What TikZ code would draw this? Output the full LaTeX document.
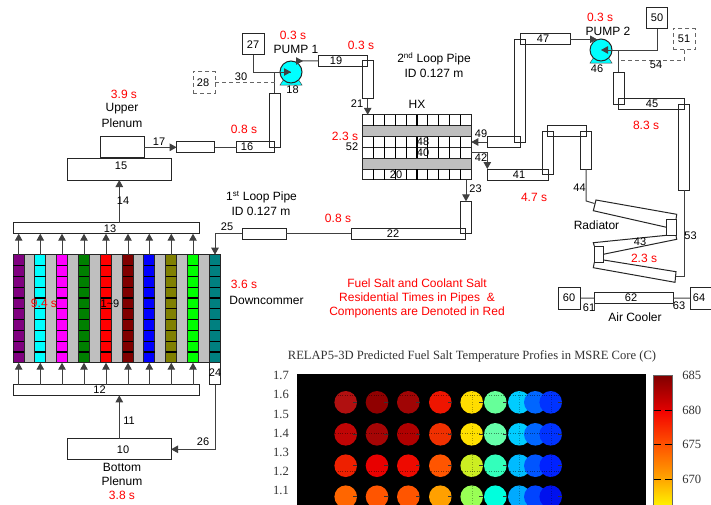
\documentclass[tikz,border=0pt]{standalone}
\usepackage{fontspec}
\setmainfont{Liberation Sans}
\newfontfamily\plotfont{Liberation Serif}
\usetikzlibrary{shapes,arrows.meta,positioning,calc}
\definecolor{linegray}{HTML}{404040}
\definecolor{dashgray}{HTML}{666666}
\definecolor{coregray}{HTML}{BFBFBF}
\definecolor{chpurple}{HTML}{800080}
\definecolor{chcyan}{HTML}{00FFFF}
\definecolor{chmagenta}{HTML}{FF00FF}
\definecolor{chgreen}{HTML}{008000}
\definecolor{chred}{HTML}{FF0000}
\definecolor{chmaroon}{HTML}{800000}
\definecolor{chblue}{HTML}{0000FF}
\definecolor{cholive}{HTML}{808000}
\definecolor{chlime}{HTML}{00FF00}
\definecolor{chteal}{HTML}{008080}

\begin{document}
\begin{tikzpicture}[
    x=1pt, y=-1pt,
    pipe/.style={draw=black!85, line width=1pt, inner sep=0pt, outer sep=0pt},
    tank/.style={pipe, minimum width=21.7pt, minimum height=21pt},
    dashbox/.style={draw=dashgray, dash pattern=on 4pt off 3pt, line width=1pt, inner sep=0pt, outer sep=0pt, minimum width=21.7pt, minimum height=21.7pt},
    cell/.style={inner sep=0pt, outer sep=0pt, minimum width=10.8pt, minimum height=10.8pt},
    hxcell/.style={cell, minimum width=10.86pt},
    cellline/.style={black, line width=1.2pt},
    band/.style={draw=black!85, fill=coregray, line width=1pt, inner sep=0pt, outer sep=0pt},
    pumpc/.style={circle, draw=black!85, fill=chcyan, line width=1pt, minimum size=22pt, inner sep=0pt, outer sep=0pt},
    conn/.style={line width=1pt, color=linegray},
    flow/.style={conn, -{Triangle[length=7pt,width=7.5pt]}},
    dashconn/.style={line width=1pt, color=dashgray, dash pattern=on 4pt off 3pt},
    num/.style={inner sep=0pt, font=\fontsize{11}{11}\selectfont},
    txt/.style={inner sep=0pt, font=\fontsize{12}{12}\selectfont},
    redtxt/.style={txt, text=red},
    plottxt/.style={inner sep=0pt, font=\plotfont\fontsize{12.6}{12.6}\selectfont, text=black!80},
    dot/.style={circle, inner sep=0pt, outer sep=0pt, minimum size=22.6pt}
]
\useasboundingbox (0,0) rectangle (711,504);

% --- core ---
\node[band, minimum width=207pt, minimum height=108pt] (core) at (116.7,308.7) {};
\node[pipe, minimum width=10.8pt, minimum height=108pt] (gap1) at (29.7,308.7) {};
\foreach \cx/\ccol/\n in {18.7/chpurple/1, 40.3/chcyan/2, 62/chmagenta/3, 84/chgreen/4, 106/chred/5,
                          128/chmaroon/6, 149.3/chblue/7, 171.3/cholive/8, 193/chlime/9, 215/chteal/10}{
    \foreach \r in {1,...,10}{
        \node[cell, fill=\ccol] (ch\n-\r) at (\cx,{254.7+(\r-0.5)*10.8}) {};
    }
    \node[pipe, minimum width=10.8pt, minimum height=108pt] (chbox\n) at (\cx,308.7) {};
    \foreach \r in {1,...,9}{
        \draw[cellline] (ch\n-\r.south west) -- (ch\n-\r.south east);
    }
}
\node[redtxt] (t94) at (44,303.5) {9.4 s};
\node[num] (l19) at (110,304) {1\textasciitilde 9};

% --- plates and plena ---
\node[pipe, minimum width=186pt, minimum height=11pt] (p13) at (106,228.2) {};
\node[num] (l13) at (110,228.5) {13};
\node[pipe, minimum width=186pt, minimum height=10.7pt] (p12) at (106,390) {};
\node[num] (l12) at (99.5,389.5) {12};
\node[pipe, minimum width=10.7pt, minimum height=21.7pt] (p24) at (215,373.8) {};
\node[num] (l24) at (215,372.5) {24};
\node[pipe, minimum width=103.5pt, minimum height=21.3pt] (b10) at (119.3,449.3) {};
\node[num] (l10) at (123,449.5) {10};
\node[pipe, minimum width=104pt, minimum height=22pt] (b15) at (119.3,169) {};
\node[num] (l15) at (121,166) {15};
\node[pipe, minimum width=44pt, minimum height=21.3pt] (b15u) at (122,147.3) {};

% --- primary loop ---
\node[pipe, minimum width=38.3pt, minimum height=10.7pt] (p17) at (195.8,147.3) {};
\node[pipe, minimum width=38.3pt, minimum height=10.7pt] (p16) at (255.8,147.3) {};
\node[num] (l16) at (247,147) {16};
\node[pipe, minimum width=11pt, minimum height=54pt] (p16v) at (274.8,120.3) {};
\node[pipe, minimum width=49.3pt, minimum height=11pt] (p19) at (343.3,60.8) {};
\node[num] (l19b) at (336,61) {19};
\node[pipe, minimum width=10.7pt, minimum height=38pt] (p21) at (367.7,79.7) {};
\node[pipe, minimum width=113.7pt, minimum height=11pt] (p22) at (408.2,233.8) {};
\node[num] (l22) at (393,234) {22};
\node[pipe, minimum width=10.7pt, minimum height=32.3pt] (p23) at (466,217.5) {};
\node[pipe, minimum width=43.7pt, minimum height=11pt] (p25) at (264.2,233.8) {};

% --- pump 1 ---
\node[tank] (b27) at (253.2,44.3) {};
\node[num] (l27) at (253,45) {27};
\node[dashbox] (b28) at (204.2,82.2) {};
\node[num] (l28) at (203,83) {28};
\fill[chcyan, draw=black!70, line width=0.5pt] (284,79) -- (298,79) -- (302,85) -- (280,85) -- cycle;
\node[pumpc] (pump1) at (291,72) {};
\coordinate (pump1in) at (296,61);
\coordinate (pump1tip) at (303,61);
\coordinate (tee1) at (p16v.north |- pump1.west);

% --- heat exchanger ---
\node[band, minimum width=108.6pt, minimum height=10.7pt] (hxb1) at (417,131.2) {};
\node[band, minimum width=108.6pt, minimum height=11pt] (hxb2) at (417,163.5) {};
\foreach \ry/\rn in {120.2/1, 142/2, 152.7/3, 174.5/4}{
    \foreach \c in {1,...,10}{
        \node[hxcell, draw=black!85, line width=1pt] (hx\rn-\c) at ({362.7+(\c-0.5)*10.86},\ry) {};
    }
    \foreach \c in {1,...,9}{
        \draw[cellline] (hx\rn-\c.north east) -- (hx\rn-\c.south east);
    }
}
\node[num] (l48) at (423,142) {48};
\node[num] (l40) at (423,153) {40};
\node[num] (l20) at (396,175) {20};

% --- secondary loop ---
\node[pipe, minimum width=33.4pt, minimum height=10.7pt] (p49) at (504,142) {};
\node[pipe, minimum width=11.3pt, minimum height=103pt] (p48v) at (520.3,90.8) {};
\node[pipe, minimum width=50pt, minimum height=10.7pt] (p47) at (545,39.3) {};
\node[num] (l47) at (543,39) {47};
\node[pipe, minimum width=61pt, minimum height=11pt] (p41) at (517.8,174.5) {};
\node[num] (l41) at (519,175) {41};
\node[pipe, minimum width=10.7pt, minimum height=43pt] (p41v) at (548,152.8) {};
\node[pipe, minimum width=39pt, minimum height=11pt] (p41h) at (567.2,130.8) {};
\node[pipe, minimum width=11pt, minimum height=38pt] (p44v) at (586.2,150.3) {};
\node[pipe, minimum width=11pt, minimum height=32.3pt] (p45v) at (618.8,88.2) {};
\node[pipe, minimum width=66.2pt, minimum height=11pt] (p45) at (651.4,104.2) {};
\node[num] (l45) at (652,104) {45};
\node[pipe, minimum width=11pt, minimum height=85.7pt] (p53v) at (684.2,147.2) {};

% --- pump 2 ---
\node[tank] (b50) at (657,18) {};
\node[num] (l50) at (657,18) {50};
\node[dashbox] (b51) at (684.2,39) {};
\node[num] (l51) at (684,39) {51};
\fill[chcyan, draw=black!70, line width=0.5pt] (594,57) -- (608,57) -- (612,63) -- (590,63) -- cycle;
\node[pumpc] (pump2) at (601,50) {};
\coordinate (pump2tip) at (597,39.3);
\coordinate (tee2) at (p45v.north |- pump2.east);

% --- radiator ---
\node[pipe, minimum width=9.4pt, minimum height=16pt] (r1) at (671.3,227.3) {};
\node[pipe, minimum width=9.4pt, minimum height=16.3pt] (r2) at (599,254.2) {};
\coordinate (radin) at (594.5,203.5);
\coordinate (radout) at (675.5,276.7);
\draw[pipe] (r1.north east) -- (676.7,214.3) -- (596,200) -- (593.3,210.7) -- (r1.west);
\draw[pipe] (r1.south west) -- (593.3,242.7) -- (r2.north west);
\draw[pipe] (r1.south east) -- (676.7,239.3) -- (r2.east);
\draw[pipe] (603.7,260) -- (676,271.7) -- (675,282.3) -- (593.3,267.7) -- (r2.south west);

% --- air cooler ---
\node[tank, minimum height=21.7pt] (b60) at (569.7,298.2) {};
\node[num] (l60) at (569,298) {60};
\node[pipe, minimum width=79pt, minimum height=10.7pt] (p62) at (633.8,298) {};
\node[num] (l62) at (631,298) {62};
\node[tank, minimum height=21.7pt] (b64) at (701,298.2) {};
\node[num] (l64) at (699,298) {64};
\node[num] (l61) at (589,308) {61};
\node[num] (l63) at (679,306) {63};

% --- connections: primary loop ---
\foreach \n in {1,...,9}{
    \draw[flow] (ch\n-1.north) -- (ch\n-1.north |- p13.south);
    \draw[flow] (ch\n-10.south |- p12.north) -- (ch\n-10.south);
}
\draw[flow] (b10.north) -- (b10.north |- p12.south);
\draw[flow] (p24.south) |- (b10.east);
\draw[flow] (b15.south |- p13.north) -- (b15.south);
\draw[flow] (b15u.east) -- (p17.west);
\draw[conn] (p17.east) -- (p16.west);
\draw[conn] (p16v.north) -- (tee1);
\draw[conn] (b27.south) |- (pump1.center);
\draw[flow] (tee1) -- (pump1.center);
\draw[dashconn] (b28.east) -- (tee1 |- b28.east);
\draw[conn] (p19.west) -- (pump1in);
\draw[flow, line width=0.8pt] (pump1in) -- (pump1tip);
\draw[flow] (p21.south) -- (hx1-1.north -| p21.south);
\draw[flow] (p23.north |- hx4-10.south) -- (p23.north);
\draw[conn] (p22.west) -- (p25.east);
\draw[flow] (p25.west) -| (ch10-1.north);

% --- connections: secondary loop ---
\draw[flow] (p49.west) -- (hx2-10.east);
\draw[flow] (hx3-10.east) -| (p41.north west);
\draw[conn] (p47.east) -- (pump2tip);
\draw[flow, line width=0.8pt] ($(pump2tip)+(-6,0)$) -- (pump2tip);
\draw[flow] (tee2) -- (pump2.center);
\draw[conn] (b50.south) |- (tee2);
\draw[conn] (tee2) -- (p45v.north);
\draw[dashconn] (b51.south) |- (tee2 |- 0,60.5);
\draw[conn] (p44v.south) -- (p44v.south |- 0,201) -- (radin);
\draw[conn] (p53v.south) |- (radout);
\draw[conn] (b60.east) -- (p62.west);
\draw[conn] (p62.east) -- (b64.west);
\draw[conn] (p62.south west) -- +(0,8);
\draw[conn] (p62.south east) -- +(0,3);

% --- labels ---
\node[num] (l11) at (129,421) {11};
\node[num] (l26) at (203,442) {26};
\node[num] (l14) at (123,201) {14};
\node[num] (l17) at (159,142) {17};
\node[num] (l18) at (292.5,90) {18};
\node[num] (l30) at (241,77) {30};
\node[num] (l21) at (357,104) {21};
\node[num] (l52) at (352,147) {52};
\node[num] (l49) at (481,134) {49};
\node[num] (l42) at (481,158) {42};
\node[num] (l23) at (475.5,189) {23};
\node[num] (l25) at (227,227) {25};
\node[num] (l46) at (597,69) {46};
\node[num] (l54) at (656,65) {54};
\node[num] (l44) at (579.5,188) {44};
\node[num] (l43) at (640,242) {43};
\node[num] (l53) at (690.5,236) {53};

\node[txt] (tup) at (122,109) {Upper};
\node[txt] (tupb) at (122,123) {Plenum};
\node[redtxt] (t39) at (124,94) {3.9 s};
\node[txt] (tbot) at (122,467) {Bottom};
\node[txt] (tbotb) at (122,481) {Plenum};
\node[redtxt] (t38) at (122,495) {3.8 s};
\node[redtxt] (t08a) at (244,129) {0.8 s};
\node[txt] (tloop1) at (261.5,197) {1\textsuperscript{st} Loop Pipe};
\node[txt] (tid1) at (261,211) {ID 0.127 m};
\node[redtxt] (t08b) at (338,218) {0.8 s};
\node[redtxt] (t36) at (244,284) {3.6 s};
\node[txt] (tdown) at (266.5,300) {Downcommer};
\node[redtxt] (t03a) at (293,35) {0.3 s};
\node[txt] (tpump1) at (296,49) {PUMP 1};
\node[redtxt] (t03b) at (361,45) {0.3 s};
\node[txt] (tloop2) at (434,59) {2\textsuperscript{nd} Loop Pipe};
\node[txt] (tid2) at (434,73) {ID 0.127 m};
\node[txt] (thx) at (417,104) {HX};
\node[redtxt] (t23a) at (345,136) {2.3 s};
\node[redtxt] (t47) at (534,197) {4.7 s};
\node[redtxt] (t03c) at (600,17) {0.3 s};
\node[txt] (tpump2) at (608,31) {PUMP 2};
\node[redtxt] (t83) at (646,125) {8.3 s};
\node[txt] (trad) at (596.5,225) {Radiator};
\node[redtxt] (t23b) at (644,258.5) {2.3 s};
\node[txt] (tcool) at (635,317) {Air Cooler};
\node[redtxt] (tnote1) at (417,283) {Fuel Salt and Coolant Salt};
\node[redtxt] (tnote2) at (417,298) {Residential Times in Pipes\ \ \&};
\node[redtxt] (tnote3) at (417,312) {Components are Denoted in Red};

% --- temperature plot ---
\node[plottxt] (ptitle) at (472,356.7) {RELAP5-3D Predicted Fuel Salt Temperature Profies in MSRE Core (C)};
\node[fill=black, inner sep=0pt, outer sep=0pt, minimum width=349pt, minimum height=136pt] (pbox) at (471.2,442.3) {};
\foreach \yv/\ly in {1.7/375.7, 1.6/394.7, 1.5/414, 1.4/433.3, 1.3/452.7, 1.2/471.3, 1.1/490.7}{
    \node[plottxt] (y\ly) at (281,\ly) {\yv};
}
\foreach \ry/\rn/\ca/\cb/\cc/\cd/\ce/\cf/\cg/\ch/\ci in {
    402.3/1/B01010/900000/A00505/EE1500/FFDD00/66FF99/00CCFF/0066FF/0033FF,
    434.3/2/C00505/A50505/B00000/F03000/FFE000/66FFAA/00CCFF/0066FF/0033FF,
    465.7/3/EE2000/E80000/EE0A00/FF5500/CCEE22/33FFBB/00BBFF/0055FF/0022FF,
    496.7/4/FF6600/FF5500/FF5500/FFA000/99FF55/00FFDD/00AAFF/0044FF/0011EE}{
    \foreach \k/\cx/\hexc in {1/345.7/\ca,2/377/\cb,3/408.3/\cc,4/440.3/\cd,5/471.7/\ce,6/495.3/\cf,7/519.3/\cg,8/535.3/\ch,9/550.7/\ci}{
        \definecolor{dotfill}{HTML}{\hexc}
        \node[dot, fill=dotfill] (d\rn-\k) at (\cx,\ry) {};
        \draw[black!80, line width=0.5pt] (d\rn-\k.east) -- +(-4,0);
    }
}
\foreach \gy in {394.7,433.3,471.3}{
    \draw[black, opacity=0.45, line width=0.4pt, dotted] (pbox.west |- 0,\gy) -- (pbox.east |- 0,\gy);
}
\foreach \gx in {471.7,519.3,550.7}{
    \draw[black, opacity=0.3, line width=0.4pt, dotted] (\gx,385) -- (\gx,504);
}

% --- colour bar ---
\node[inner sep=0pt, outer sep=0pt, minimum width=18.3pt, minimum height=35pt, top color=black!50!red, bottom color=red!88!black] (bar1) at (662.8,392.5) {};
\node[inner sep=0pt, outer sep=0pt, minimum width=18.3pt, minimum height=34.7pt, top color=red!95!black, bottom color=orange!65!red] (bar2) at (662.8,427.35) {};
\node[inner sep=0pt, outer sep=0pt, minimum width=18.3pt, minimum height=34.3pt, top color=orange!65!red, bottom color=orange!70!yellow] (bar3) at (662.8,461.85) {};
\node[inner sep=0pt, outer sep=0pt, minimum width=18.3pt, minimum height=31pt, top color=orange!70!yellow, bottom color=yellow] (bar4) at (662.8,494.5) {};
\node[draw=black!60, line width=0.6pt, inner sep=0pt, outer sep=0pt, minimum width=18.3pt, minimum height=135pt] (bar) at (662.8,442.5) {};
\foreach \ty/\tv in {375/685, 410/680, 444.7/675, 479/670}{
    \node[plottxt] (c\tv) at (691.7,\ty) {\tv};
}
\foreach \ty in {410,444.7,479}{
    \draw[black, line width=0.8pt] (653.7,\ty) -- +(7,0);
    \draw[black, line width=0.8pt] (672,\ty) -- +(-7,0);
}
\end{tikzpicture}
\end{document}
